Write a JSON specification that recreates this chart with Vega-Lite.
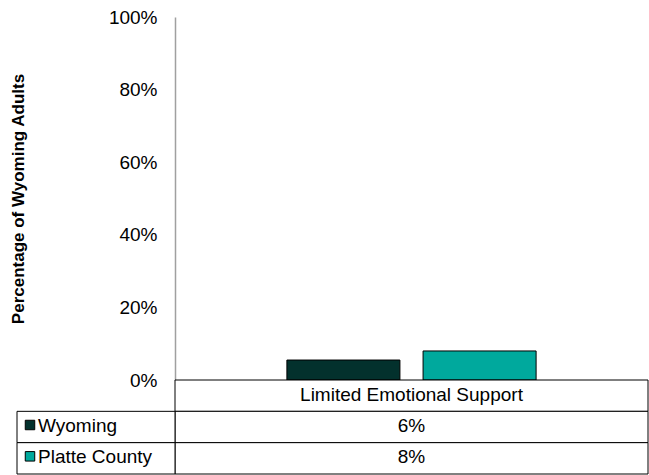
{
  "$schema": "https://vega.github.io/schema/vega-lite/v6.json",
  "width": 473,
  "height": 363,
  "autosize": {"type": "none"},
  "padding": {"left": 175, "top": 17, "right": 1, "bottom": 95},
  "background": "white",
  "config": {"view": {"stroke": null}, "font": "Liberation Sans"},
  "datasets": {
    "bars": [
      {"category": "Limited Emotional Support", "series": "Wyoming", "value": 0.055, "label": "6%"},
      {"category": "Limited Emotional Support", "series": "Platte County", "value": 0.08, "label": "8%"}
    ],
    "header": [
      {"category": "Limited Emotional Support"}
    ]
  },
  "data": {"name": "bars"},
  "resolve": {"scale": {"x": "independent", "y": "independent"}},
  "layer": [
    {
      "mark": {"type": "bar", "stroke": "black", "strokeWidth": 1},
      "encoding": {
        "x": {"field": "category", "type": "nominal", "scale": {"paddingInner": 0, "paddingOuter": 0.449}, "axis": null},
        "xOffset": {"field": "series", "type": "nominal", "sort": ["Wyoming", "Platte County"], "scale": {"paddingInner": 0.17, "paddingOuter": 0}},
        "y": {
          "field": "value", "type": "quantitative",
          "scale": {"domain": [0, 1], "nice": false},
          "axis": {
            "values": [0, 0.2, 0.4, 0.6, 0.8, 1],
            "format": ".0%",
            "grid": false,
            "ticks": false,
            "tickSize": 0,
            "labelPadding": 18,
            "labelFontSize": 19,
            "labelColor": "black",
            "domainColor": "#A0A0A0",
            "domainWidth": 1.5,
            "title": "Percentage of Wyoming Adults",
            "titleFontSize": 17,
            "titleFontWeight": "bold",
            "titleColor": "black",
            "titleX": -157,
            "titleY": 181.5,
            "titleAngle": -90,
            "titleAlign": "center",
            "titleBaseline": "middle"
          }
        },
        "color": {"field": "series", "type": "nominal", "scale": {"domain": ["Wyoming", "Platte County"], "range": ["#03312D", "#00A99D"]}, "legend": null}
      }
    },
    {
      "layer": [
        {
          "data": {"name": "header"},
          "mark": {"type": "rect", "fill": "white", "stroke": "black", "strokeWidth": 1},
          "encoding": {
            "y": {"field": "category", "type": "nominal", "scale": {"domain": ["Limited Emotional Support", "Wyoming", "Platte County"], "range": [363, 457], "paddingInner": 0, "paddingOuter": 0}, "axis": null}
          }
        },
        {
          "data": {"name": "header"},
          "mark": {"type": "text", "fontSize": 19, "color": "black", "dy": -1},
          "encoding": {
            "y": {"field": "category", "type": "nominal", "scale": {"domain": ["Limited Emotional Support", "Wyoming", "Platte County"], "range": [363, 457], "paddingInner": 0, "paddingOuter": 0}, "axis": null},
            "text": {"field": "category"}
          }
        },
        {
          "mark": {"type": "rect", "fill": "white", "stroke": "black", "strokeWidth": 1},
          "encoding": {
            "y": {"field": "series", "type": "nominal", "scale": {"domain": ["Limited Emotional Support", "Wyoming", "Platte County"], "range": [363, 457], "paddingInner": 0, "paddingOuter": 0}, "axis": null}
          }
        },
        {
          "mark": {"type": "text", "fontSize": 19, "color": "black", "dy": -1},
          "encoding": {
            "y": {"field": "series", "type": "nominal", "scale": {"domain": ["Limited Emotional Support", "Wyoming", "Platte County"], "range": [363, 457], "paddingInner": 0, "paddingOuter": 0}, "axis": null},
            "text": {"field": "label"}
          }
        },
        {
          "mark": {"type": "rect", "fill": "white", "stroke": "black", "strokeWidth": 1},
          "encoding": {
            "x": {"datum": "label", "type": "nominal", "scale": {"range": [-158, 0], "paddingInner": 0, "paddingOuter": 0}, "axis": null},
            "y": {"field": "series", "type": "nominal", "scale": {"domain": ["Limited Emotional Support", "Wyoming", "Platte County"], "range": [363, 457], "paddingInner": 0, "paddingOuter": 0}, "axis": null}
          }
        },
        {
          "mark": {"type": "point", "shape": "square", "filled": true, "size": 90, "stroke": "black", "strokeWidth": 1, "opacity": 1, "xOffset": -66, "yOffset": -2},
          "encoding": {
            "x": {"datum": "label", "type": "nominal", "scale": {"range": [-158, 0], "paddingInner": 0, "paddingOuter": 0}, "axis": null},
            "y": {"field": "series", "type": "nominal", "scale": {"domain": ["Limited Emotional Support", "Wyoming", "Platte County"], "range": [363, 457], "paddingInner": 0, "paddingOuter": 0}, "axis": null},
            "color": {"field": "series", "type": "nominal", "legend": null}
          }
        },
        {
          "mark": {"type": "text", "fontSize": 19, "color": "black", "align": "left", "dx": -58, "dy": -1},
          "encoding": {
            "x": {"datum": "label", "type": "nominal", "scale": {"range": [-158, 0], "paddingInner": 0, "paddingOuter": 0}, "axis": null},
            "y": {"field": "series", "type": "nominal", "scale": {"domain": ["Limited Emotional Support", "Wyoming", "Platte County"], "range": [363, 457], "paddingInner": 0, "paddingOuter": 0}, "axis": null},
            "text": {"field": "series"}
          }
        }
      ]
    }
  ]
}
